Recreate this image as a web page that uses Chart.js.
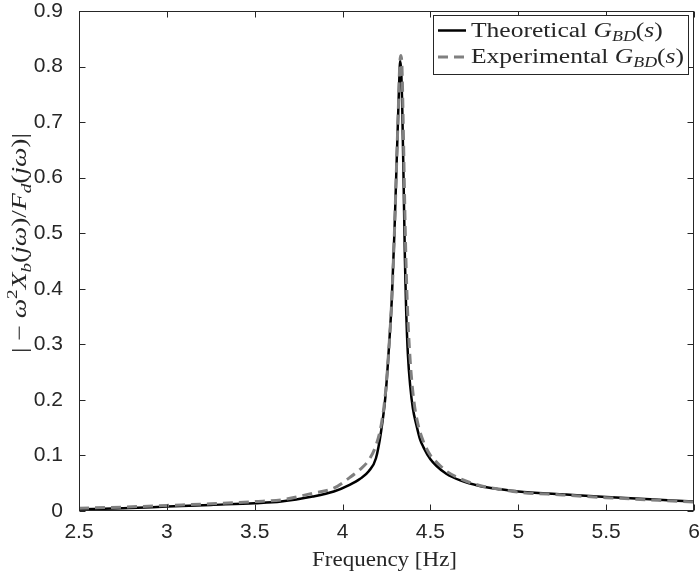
<!DOCTYPE html>
<html>
<head>
<meta charset="utf-8">
<script src="https://cdn.jsdelivr.net/npm/chart.js@4/dist/chart.umd.min.js"></script>
<style>
  html, body { margin: 0; padding: 0; background: #fff; }
  canvas { display: block; }
</style>
</head>
<body>
<canvas id="bode" width="700" height="577"></canvas>
<script>
// values
const freqTheo = [2.5, 2.75, 3.0, 3.25, 3.5, 3.65, 3.83, 3.95, 4.04, 4.1, 4.15, 4.19, 4.22, 4.245, 4.265, 4.28, 4.295, 4.305, 4.315, 4.322, 4.328, 4.334, 4.34, 4.347, 4.355, 4.362, 4.372, 4.385, 4.4, 4.42, 4.44, 4.46, 4.5, 4.535, 4.59, 4.67, 4.78, 4.9, 5.0, 5.25, 5.5, 5.75, 6.0];
const magTheo  = [0.003, 0.005, 0.008, 0.011, 0.014, 0.017, 0.026, 0.035, 0.047, 0.058, 0.072, 0.095, 0.145, 0.21, 0.30, 0.38, 0.50, 0.60, 0.70, 0.77, 0.81, 0.79, 0.72, 0.60, 0.45, 0.36, 0.28, 0.225, 0.185, 0.155, 0.13, 0.115, 0.093, 0.081, 0.067, 0.055, 0.045, 0.039, 0.035, 0.030, 0.025, 0.021, 0.017];

const freqExp = [2.5, 2.75, 3.0, 3.25, 3.5, 3.65, 3.83, 3.95, 4.04, 4.1, 4.15, 4.19, 4.22, 4.245, 4.265, 4.28, 4.295, 4.307, 4.317, 4.325, 4.331, 4.338, 4.345, 4.352, 4.36, 4.37, 4.385, 4.405, 4.43, 4.46, 4.5, 4.535, 4.59, 4.67, 4.78, 4.9, 5.0, 5.25, 5.5, 5.75, 6.0];
const magExp  = [0.005, 0.007, 0.010, 0.013, 0.017, 0.020, 0.032, 0.041, 0.060, 0.075, 0.092, 0.118, 0.155, 0.215, 0.30, 0.38, 0.50, 0.62, 0.72, 0.80, 0.82, 0.80, 0.70, 0.58, 0.46, 0.36, 0.27, 0.20, 0.155, 0.125, 0.100, 0.088, 0.072, 0.058, 0.046, 0.039, 0.034, 0.029, 0.024, 0.020, 0.016];

const xTicks = [2.5, 3, 3.5, 4, 4.5, 5, 5.5, 6];
const yTicks = [0, 0.1, 0.2, 0.3, 0.4, 0.5, 0.6, 0.7, 0.8, 0.9];

const axisColor = '#262626';
const serif = '"Liberation Serif", "Times New Roman", serif';

// draw a run of text pieces (italic / sub / sup) along the baseline
function richWidth(ctx, parts, size){
  let w = 0;
  parts.forEach(function(p){
    const s = p.pos ? size * 0.7 : size;
    ctx.font = (p.it ? 'italic ' : '') + s + 'px ' + serif;
    w += ctx.measureText(p.t).width;
  });
  return w;
}
function richDraw(ctx, parts, size){
  let x = 0;
  parts.forEach(function(p){
    const s = p.pos ? size * 0.7 : size;
    ctx.font = (p.it ? 'italic ' : '') + s + 'px ' + serif;
    let dy = 0;
    if(p.pos === -1) dy = size * 0.22;
    if(p.pos === 1) dy = -size * 0.42;
    ctx.fillText(p.t, x, dy);
    x += ctx.measureText(p.t).width;
  });
}
// x,y = left baseline; stretched horizontally to the target width
function richFit(ctx, parts, size, x, y, target, rot){
  const w = richWidth(ctx, parts, size);
  ctx.save();
  ctx.translate(x, y);
  if(rot) ctx.rotate(rot);
  ctx.scale(target / w, 1);
  ctx.textAlign = 'left';
  ctx.textBaseline = 'alphabetic';
  ctx.fillStyle = axisColor;
  richDraw(ctx, parts, size);
  ctx.restore();
}

const legendRows = [
  { color: '#000000', width: 2.5, dash: [], parts: [{t:'Theoretical '}, {t:'G', it:1}, {t:'BD', it:1, pos:-1}, {t:'('}, {t:'s', it:1}, {t:')'}] },
  { color: '#808080', width: 3, dash: [10, 6], parts: [{t:'Experimental '}, {t:'G', it:1}, {t:'BD', it:1, pos:-1}, {t:'('}, {t:'s', it:1}, {t:')'}] }
];

const framePlugin = {
  id: 'frame',
  afterDatasetsDraw(chart){
    const ctx = chart.ctx;
    const a = chart.chartArea;
    const xs = chart.scales.x, ys = chart.scales.y;
    const L = Math.round(a.left) + 0.5, R = Math.round(a.right) - 0.5;
    const T = Math.round(a.top) + 0.5, B = Math.round(a.bottom) - 0.5;
    ctx.save();
    ctx.strokeStyle = axisColor;
    ctx.lineWidth = 1;
    ctx.setLineDash([]);
    ctx.strokeRect(L, T, R - L, B - T);
    ctx.beginPath();
    xTicks.forEach(function(v){
      const px = Math.round(xs.getPixelForValue(v)) + 0.5;
      ctx.moveTo(px, B); ctx.lineTo(px, B - 6);
      ctx.moveTo(px, T); ctx.lineTo(px, T + 6);
    });
    yTicks.forEach(function(v){
      const py = Math.round(ys.getPixelForValue(v)) + 0.5;
      ctx.moveTo(L, py); ctx.lineTo(L + 6, py);
      ctx.moveTo(R, py); ctx.lineTo(R - 6, py);
    });
    ctx.stroke();

    // legend box
    const bx = 433, by = 15.5, bw = 255, bh = 59;
    ctx.fillStyle = '#ffffff';
    ctx.fillRect(bx, by, bw, bh);
    ctx.strokeRect(bx + 0.5, by, bw, bh);
    const baselines = [36.5, 63];
    const stretch = 213 / richWidth(ctx, legendRows[1].parts, 20);
    legendRows.forEach(function(row, i){
      const cy = baselines[i] - 6;
      ctx.strokeStyle = row.color;
      ctx.lineWidth = row.width;
      ctx.setLineDash(row.dash);
      ctx.beginPath();
      ctx.moveTo(438, cy); ctx.lineTo(466, cy);
      ctx.stroke();
      ctx.setLineDash([]);
      const w = richWidth(ctx, row.parts, 20);
      richFit(ctx, row.parts, 20, 471, baselines[i], w * stretch, 0);
    });

    // axis titles
    const xt = [{t:'Frequency [Hz]'}];
    richFit(ctx, xt, 21, 312, 566, 145, 0);
    const yt = [{t:'| \u2212 '}, {t:'\u03c9', it:1}, {t:'2', pos:1}, {t:'X', it:1}, {t:'b', it:1, pos:-1},
                {t:'('}, {t:'j\u03c9', it:1}, {t:')/'}, {t:'F', it:1}, {t:'d', it:1, pos:-1},
                {t:'('}, {t:'j\u03c9', it:1}, {t:')|'}];
    richFit(ctx, yt, 21, 26, 353, 220, -Math.PI / 2);
    ctx.restore();
  }
};

new Chart(document.getElementById('bode').getContext('2d'), {
  type: 'line',
  data: {
    datasets: [
      { label: 'Experimental', data: freqExp.map((f, i) => ({ x: f, y: magExp[i] })),
        borderColor: '#808080', borderWidth: 3, borderDash: [10, 6], pointRadius: 0,
        cubicInterpolationMode: 'monotone', fill: false, order: 0 },
      { label: 'Theoretical', data: freqTheo.map((f, i) => ({ x: f, y: magTheo[i] })),
        borderColor: '#000000', borderWidth: 2.5, pointRadius: 0,
        cubicInterpolationMode: 'monotone', fill: false, order: 1 }
    ]
  },
  options: {
    responsive: false,
    animation: false,
    layout: { padding: { left: 0, right: 6, top: 11, bottom: 0 } },
    plugins: { legend: { display: false }, tooltip: { enabled: false } },
    scales: {
      x: {
        type: 'linear', min: 2.5, max: 6,
        afterBuildTicks: function(s){ s.ticks = xTicks.map(v => ({ value: v })); },
        afterFit: function(s){ s.height = 66; s.paddingLeft = 0; s.paddingRight = 0; },
        ticks: { color: axisColor, padding: 1, maxRotation: 0, autoSkip: false,
                 font: { family: '"Liberation Sans", Arial, sans-serif', size: 21 },
                 callback: v => String(v) },
        grid: { display: false }, border: { display: false }
      },
      y: {
        type: 'linear', min: 0, max: 0.9,
        afterBuildTicks: function(s){ s.ticks = yTicks.map(v => ({ value: v })); },
        afterFit: function(s){ s.width = 79; s.paddingTop = 0; s.paddingBottom = 0; },
        ticks: { color: axisColor, padding: 8, autoSkip: false,
                 font: { family: '"Liberation Sans", Arial, sans-serif', size: 21 },
                 callback: v => String(v) },
        grid: { display: false }, border: { display: false }
      }
    }
  },
  plugins: [framePlugin]
});
</script>
</body>
</html>
